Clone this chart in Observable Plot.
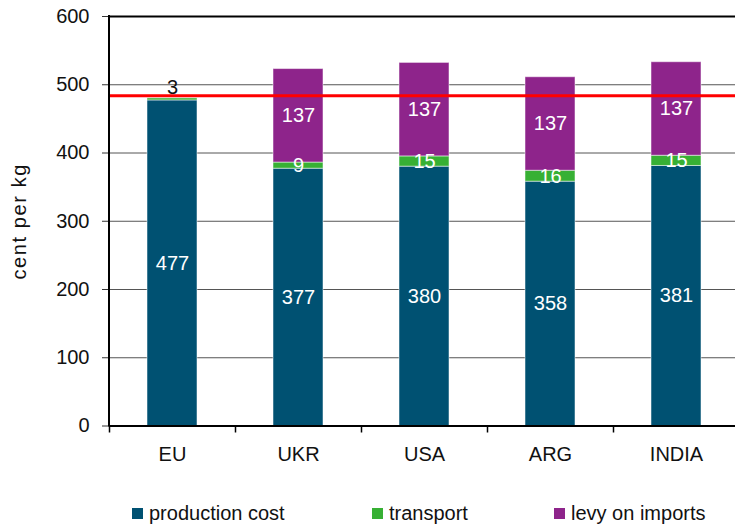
<!DOCTYPE html>
<html><head><meta charset="utf-8">
<script src="https://cdn.jsdelivr.net/npm/d3@7"></script>
<script src="https://cdn.jsdelivr.net/npm/@observablehq/plot@0.6"></script>
<style>
body{margin:0;background:#fff;font-family:"Liberation Sans",Arial,sans-serif;}
#chart svg{display:block;}
#legend{position:relative;width:735px;height:41px;font-size:20px;color:#111;}
#legend .item{position:absolute;top:12px;display:flex;align-items:center;white-space:nowrap;line-height:22px;}
#legend .sw{display:inline-block;width:11px;height:11px;margin-right:6px;}
</style></head><body>
<div id="chart"></div>
<div id="legend"></div>
<script>
const categories = ["EU", "UKR", "USA", "ARG", "INDIA"];
const series = ["production cost", "transport", "levy on imports"];
const productionCost = [477, 377, 380, 358, 381];
const transport = [3, 9, 15, 16, 15];
const levy = [0, 137, 137, 137, 137];
const threshold = [484];
const yTicks = [0, 100, 200, 300, 400, 500, 600];
const yLabel = ["cent per kg"];
const colors = ["#005172", "#37b034", "#8e248b"];

const values = [productionCost, transport, levy];
const rows = [];
categories.forEach((c, i) => {
  series.forEach((s, j) => rows.push({cat: c, series: s, value: values[j][i]}));
});

const step = 126;
const left = 109;
const pInner = 1 - 50 / step;

const chart = Plot.plot({
  width: 735,
  height: 490,
  marginLeft: left,
  marginRight: 0,
  marginTop: 16,
  marginBottom: 64.5,
  style: {fontFamily: '"Liberation Sans", Arial, sans-serif', fontSize: "20px", color: "#111", background: "white"},
  x: {domain: categories, range: [left, left + categories.length * step], paddingInner: pInner, paddingOuter: pInner / 2},
  y: {domain: [0, 600]},
  color: {domain: series, range: colors},
  marks: [
    Plot.ruleY(yTicks.filter(v => v > 0 && v < 600), {stroke: "#555", strokeWidth: 1}),
    Plot.ruleY([600], {stroke: "#000", strokeWidth: 2}),
    Plot.barY(rows, Plot.stackY({x: "cat", y: "value", fill: "series", stroke: "#ffffff", strokeOpacity: 0.5, strokeWidth: 1, filter: d => d.value > 0})),
    Plot.text(rows, Plot.stackY({x: "cat", y: "value", text: d => d.value >= 5 ? String(d.value) : null, fill: "white", fontSize: 20})),
    Plot.text(rows, Plot.stackY2({x: "cat", y: "value", text: d => d.value > 0 && d.value < 5 ? String(d.value) : null, fill: "#111", fontSize: 20, dy: -11})),
    Plot.ruleY(threshold, {stroke: "#ff0000", strokeWidth: 3}),
    Plot.ruleY([0], {stroke: "#000", strokeWidth: 2}),
    Plot.ruleX(categories, {x: d => d, dx: -step / 2, y1: 0, y2: 0, insetBottom: -7, stroke: "#000", strokeWidth: 1.5}),
    Plot.axisY({ticks: yTicks, tickSize: 7, tickPadding: 13, stroke: "#333", fontSize: 20, label: null}),
    Plot.axisX({tickSize: 0, tickPadding: 21, fontSize: 20, label: null}),
    Plot.text(yLabel, {frameAnchor: "left", textAnchor: "middle", dx: -89.5, rotate: -90, fontSize: 20, fill: "#111", className: "ylab"}),
    (index, scales, vals, dims) => {
      const g = d3.create("svg:line")
        .attr("x1", dims.marginLeft).attr("x2", dims.marginLeft)
        .attr("y1", dims.marginTop - 1).attr("y2", dims.height - dims.marginBottom + 1)
        .attr("stroke", "#000").attr("stroke-width", 2);
      return g.node();
    }
  ]
});
d3.select(chart).selectAll(".ylab text").style("letter-spacing", "1.6px");
document.getElementById("chart").appendChild(chart);

const legendPos = [132, 372, 554];
const legend = document.getElementById("legend");
series.forEach((s, i) => {
  const it = document.createElement("div");
  it.className = "item";
  it.style.left = legendPos[i] + "px";
  it.innerHTML = `<span class="sw" style="background:${colors[i]}"></span><span>${s}</span>`;
  legend.appendChild(it);
});
</script>
</body></html>
